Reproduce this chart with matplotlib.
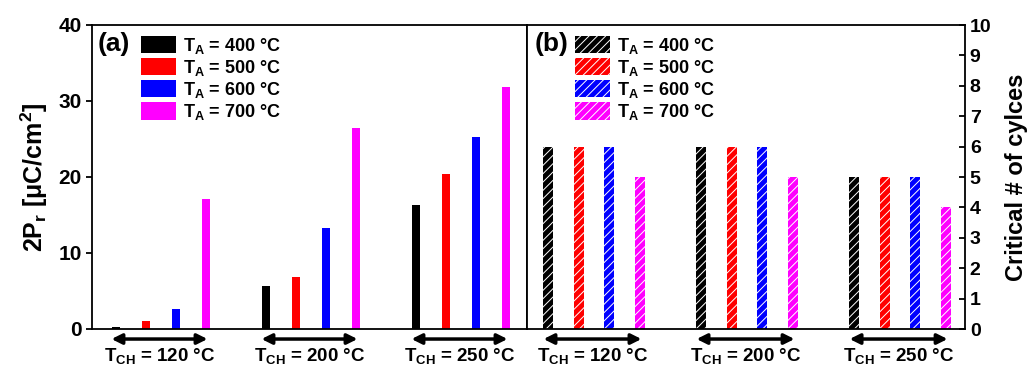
import matplotlib.pyplot as plt
from matplotlib.patches import Patch

plt.rcParams['font.family'] = ['Liberation Sans', 'DejaVu Sans']
plt.rcParams['font.weight'] = 'bold'
plt.rcParams['mathtext.default'] = 'regular'
plt.rcParams['hatch.linewidth'] = 0.7

# data
anneal = ['400', '500', '600', '700']
channel = ['120', '200', '250']
colors = ['black', 'red', 'blue', 'magenta']

# 2Pr [uC/cm^2], rows = T_CH groups, cols = T_A
pr = [[0.2, 1.1, 2.6, 17.1],
      [5.6, 6.8, 13.3, 26.4],
      [16.3, 20.4, 25.2, 31.8]]

# critical number of cycles
cycles = [[6, 6, 6, 5],
          [6, 6, 6, 5],
          [5, 5, 5, 4]]

fig = plt.figure(figsize=(10.35, 3.65), dpi=100)
axL = fig.add_axes([92/1035, 1-329/365, 435/1035, 304/365])
axR = fig.add_axes([527/1035, 1-329/365, 438/1035, 304/365])

lbl = [r'T$_{\mathregular{A}}$ = %s °C' % t for t in anneal]

for ax, data, hatch, w, x0, x1, lx in [(axL, pr, None, 0.29, -0.8, 13.7, 0.093),
                                       (axR, cycles, '////', 0.33, -0.69, 13.62, 0.09)]:
    for g in range(len(channel)):
        for i in range(len(anneal)):
            if hatch:
                ax.bar(g*5 + i, data[g][i], width=w, color=colors[i],
                       edgecolor='white', hatch=hatch, linewidth=0)
            else:
                ax.bar(g*5 + i, data[g][i], width=w, color=colors[i], linewidth=0)
        ax.annotate('', xy=(g*5 + 3.05, -0.033), xytext=(g*5 - 0.15, -0.033),
                    xycoords=('data', 'axes fraction'),
                    textcoords=('data', 'axes fraction'),
                    arrowprops=dict(arrowstyle='<|-|>', color='black', lw=2.5,
                                    mutation_scale=15, shrinkA=0, shrinkB=0),
                    annotation_clip=False)
        ax.text(g*5 + 1.45, -0.09, r'T$_{\mathregular{CH}}$ = %s °C' % channel[g],
                transform=ax.get_xaxis_transform(), ha='center', va='center',
                fontsize=13.5, fontweight='bold')
    ax.set_xlim(x0, x1)
    ax.set_xticks([])
    for s in ax.spines.values():
        s.set_linewidth(1.3)
    if hatch:
        handles = [Patch(facecolor=c, edgecolor='white', hatch=hatch, linewidth=0)
                   for c in colors]
    else:
        handles = [Patch(facecolor=c, linewidth=0) for c in colors]
    leg = ax.legend(handles, lbl, loc='upper left', bbox_to_anchor=(lx, 0.995),
                    frameon=False, fontsize=13, handlelength=1.9, handleheight=1.1,
                    labelspacing=0.12, handletextpad=0.4, borderpad=0)
    for t in leg.get_texts():
        t.set_fontweight('bold')

axL.set_ylim(0, 40)
axL.set_yticks([0, 10, 20, 30, 40])
axL.tick_params(axis='y', direction='out', length=4, width=1.3, labelsize=15)
axL.set_ylabel(r'2P$_{\mathregular{r}}$ [$\mu$C/cm$^{\mathregular{2}}$]',
               fontsize=18, fontweight='bold', labelpad=6)
axL.text(0.012, 0.915, '(a)', transform=axL.transAxes, fontsize=19, fontweight='bold')

axR.set_ylim(0, 10)
axR.set_yticks(range(11))
axR.yaxis.tick_right()
axR.yaxis.set_label_position('right')
axR.tick_params(axis='y', direction='in', length=4, width=1.3, labelsize=14)
axR.set_ylabel('Critical # of cylces', fontsize=17, fontweight='bold', labelpad=10)
axR.text(0.018, 0.915, '(b)', transform=axR.transAxes, fontsize=19, fontweight='bold')

for ax in (axL, axR):
    for t in ax.get_yticklabels():
        t.set_fontweight('bold')

fig.savefig('out.png', dpi=100)
